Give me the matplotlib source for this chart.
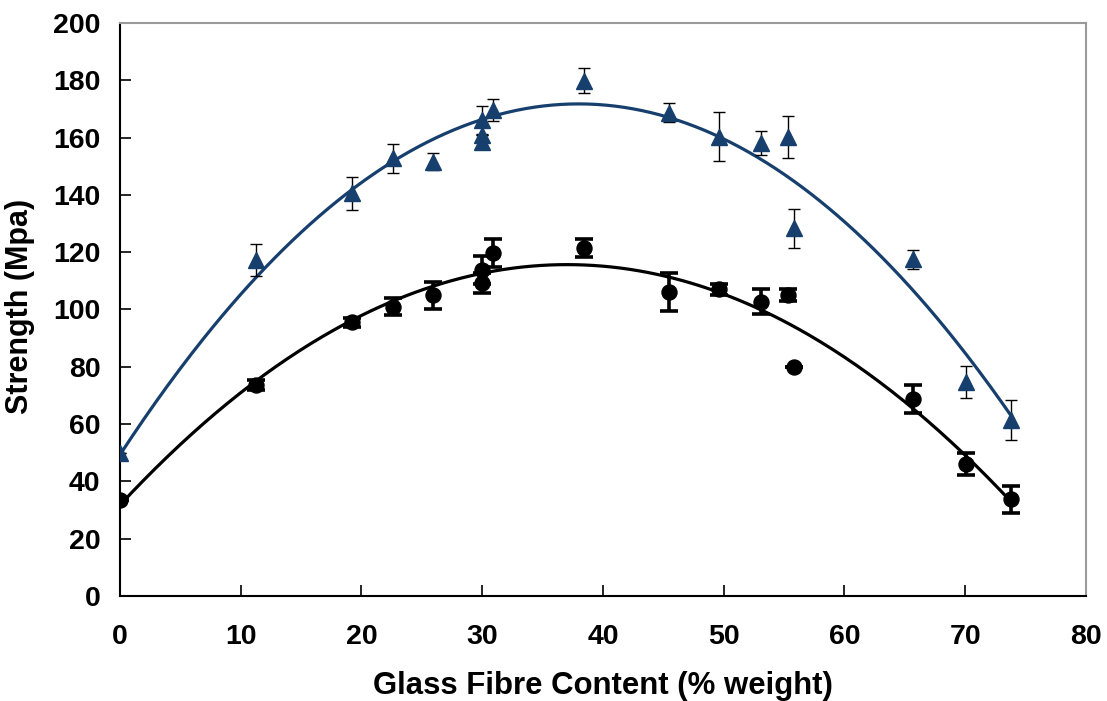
import numpy as np
import matplotlib.pyplot as plt

plt.rcParams['font.family'] = ['Liberation Sans', 'DejaVu Sans']
plt.rcParams['font.weight'] = 'bold'

# glass fibre content (% weight)
x_tri = [0, 11.3, 19.25, 22.6, 25.95, 30.0, 30.0, 30.0, 30.9, 38.4, 45.5, 49.6, 53.1, 55.3, 55.8, 65.7, 70.05, 73.8]
y_tri = [50, 117.3, 140.6, 152.8, 151.6, 166.1, 160.9, 158.6, 169.6, 179.8, 168.7, 160.3, 158.2, 160.3, 128.3, 117.5, 74.8, 61.4]
e_tri = [0, 5.5, 5.8, 5.0, 3.0, 5.0, 0, 0, 3.8, 4.4, 3.2, 8.5, 4.2, 7.3, 6.7, 3.2, 5.6, 7.0]

x_circ = [0, 11.3, 19.25, 22.6, 25.95, 30.0, 30.0, 30.9, 38.4, 45.5, 49.6, 53.1, 55.3, 55.8, 65.7, 70.05, 73.8]
y_circ = [33.5, 73.6, 95.5, 101.0, 105.0, 113.8, 109.3, 119.6, 121.4, 106.2, 107.0, 102.7, 105.0, 80.0, 68.8, 46.0, 33.7]
e_circ = [0, 1.8, 1.5, 3.0, 4.7, 5.0, 3.5, 4.9, 3.2, 6.6, 2.0, 4.3, 2.0, 0, 4.9, 3.8, 4.6]

blue = '#173f6e'

fig = plt.figure(figsize=(11.07, 7.01), dpi=100)
ax = fig.add_axes([0.1084, 0.1498, 0.8726, 0.8174])

# 2nd order polynomial trend lines
xs = np.linspace(0, max(x_tri), 300)
p_tri = np.polyfit(x_tri, y_tri, 2)
p_circ = np.polyfit(x_circ, y_circ, 2)
ax.plot(xs, np.polyval(p_tri, xs), color=blue, lw=2.3, zorder=2)
ax.plot(xs, np.polyval(p_circ, xs), color='black', lw=2.3, zorder=2)

ax.errorbar(x_tri, y_tri, yerr=e_tri, fmt='none', ecolor='black', elinewidth=1.0,
            capsize=4.5, capthick=1.0, zorder=3)
ax.plot(x_tri, y_tri, '^', color=blue, ms=11.5, mec=blue, ls='none', zorder=4)

ax.errorbar(x_circ, y_circ, yerr=e_circ, fmt='none', ecolor='black', elinewidth=2.6,
            capsize=6.5, capthick=2.6, zorder=3)
ax.plot(x_circ, y_circ, 'o', color='black', ms=10.8, ls='none', zorder=4)

ax.set_xlim(0, 80)
ax.set_ylim(0, 200)
ax.set_xticks(np.arange(0, 81, 10))
ax.set_yticks(np.arange(0, 201, 20))
ax.tick_params(direction='in', length=8, width=1.2, labelsize=20.5, pad=14)
ax.tick_params(axis='x', pad=20)

for s in ['left', 'bottom']:
    ax.spines[s].set_color('black')
    ax.spines[s].set_linewidth(1.5)
for s in ['top', 'right']:
    ax.spines[s].set_color('#9a9a9a')
    ax.spines[s].set_linewidth(1.5)

ax.set_xlabel('Glass Fibre Content (% weight)', fontsize=22.4, fontweight='bold', labelpad=15)
ax.set_ylabel('Strength (Mpa)', fontsize=22, fontweight='bold')
ax.yaxis.set_label_coords(-0.088, 0.505)

fig.savefig('out.png', dpi=100)
